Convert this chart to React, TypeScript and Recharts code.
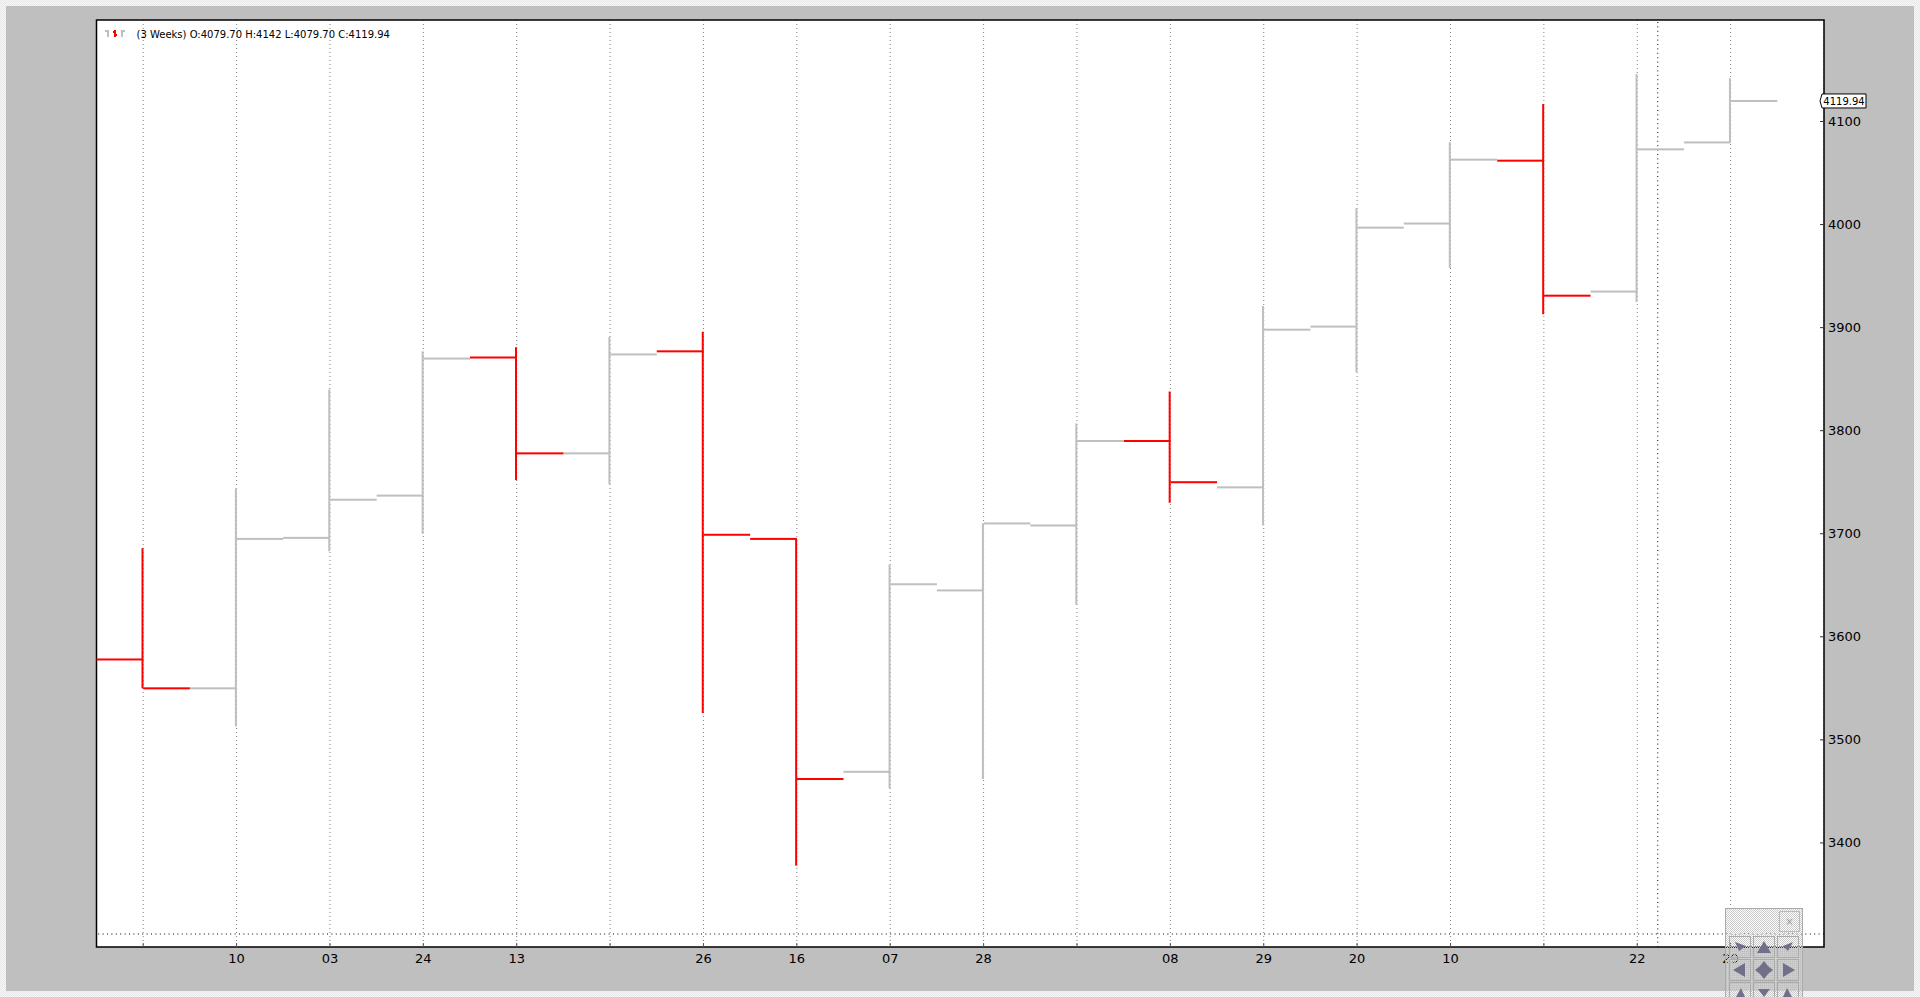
import { Bar, CartesianGrid, ComposedChart, Line, ReferenceArea, ReferenceDot, ReferenceLine, XAxis, YAxis } from 'recharts'

const xLabels = ['', '10', '03', '24', '13', '', '26', '16', '07', '28', '', '08', '29', '20', '10', '', '22', '29']
const opens = [3578, 3550, 3696, 3737, 3871, 3778, 3877, 3695, 3469, 3645, 3708, 3790, 3745, 3901, 4001, 4062, 3935, 4079.7]
const highs = [3686, 3744, 3840, 3877, 3881, 3891, 3896, 3695, 3670, 3710, 3807, 3838, 3921, 4016, 4080, 4117, 4146, 4142]
const lows = [3550, 3513, 3683, 3700, 3752, 3748, 3526, 3378, 3453, 3462, 3631, 3730, 3708, 3857, 3958, 3913, 3925, 4079.7]
const closes = [3550, 3695, 3733, 3870, 3778, 3874, 3699, 3462, 3651, 3710, 3790, 3750, 3898, 3997, 4063, 3931, 4073, 4119.94]
const yTicks = [3400, 3500, 3600, 3700, 3800, 3900, 4000, 4100]
const xTicks = xLabels.map((_, i) => i)

const RED = '#ff0000'
const GRAY = '#bfbfbf'
const TICK_WIDTH = 46.7

const chartData = xLabels.map((label, i) => ({
  i,
  label,
  open: opens[i],
  high: highs[i],
  low: lows[i],
  close: closes[i],
}))

const barColor = (d: { open: number; close: number }) => (d.close < d.open ? RED : GRAY)

// the band offset on a number axis leaves the bar about 1px right of the tick
const RangeShape = (props: any) => {
  const { x, y, width, height, payload } = props
  return <rect x={x - 1} y={y} width={width} height={height} fill={barColor(payload)} />
}

const OpenTick = (props: any) => {
  const { cx, cy, payload } = props
  return <rect key={`o${payload.i}`} x={cx - TICK_WIDTH} y={cy - 1} width={TICK_WIDTH} height={2} fill={barColor(payload)} />
}

const CloseTick = (props: any) => {
  const { cx, cy, payload } = props
  return <rect key={`c${payload.i}`} x={cx} y={cy - 1} width={TICK_WIDTH} height={2} fill={barColor(payload)} />
}

const BottomTick = (props: any) => {
  const { x, y, payload } = props
  return (
    <g>
      <line x1={x} x2={x} y1={y - 12} y2={y - 8} stroke="#555" />
      <text x={x} y={y + 7.5} textAnchor="middle" fontFamily="DejaVu Sans" fontSize={13} fill="#000">
        {xLabels[payload.value]}
      </text>
    </g>
  )
}

const RightTick = (props: any) => {
  const { x, y, payload } = props
  return (
    <g>
      <line x1={x - 12} x2={x - 8} y1={y} y2={y} stroke="#333" />
      <text x={x - 4} y={y + 4.5} fontFamily="DejaVu Sans" fontSize={13} fill="#000">
        {payload.value}
      </text>
    </g>
  )
}

const PriceTag = (props: any) => {
  const { cx, cy } = props
  return (
    <g>
      <path
        d={`M${cx - 4} ${cy} L${cx - 2} ${cy - 7} H${cx + 42} V${cy + 7} H${cx - 2} Z`}
        fill="#fff"
        stroke="#000"
        strokeWidth={1}
      />
      <text x={cx + 20} y={cy + 4} textAnchor="middle" fontFamily="DejaVu Sans" fontSize={10} fill="#000">
        4119.94
      </text>
    </g>
  )
}

const buttonCols = [1729, 1753, 1777]
const buttonRows = [936, 959, 982]
const ARROW = '#70708a'

const arrows = [
  'M1735 942 L1746 946 L1739 951 Z',
  'M1764 941 L1771 953 H1757 Z',
  'M1793 942 L1783 946 L1788 951 Z',
  'M1733 970 L1745 963 V977 Z',
  'M1764 961 L1768 966 L1773 970 L1768 974 L1764 979 L1760 974 L1755 970 L1760 966 Z',
  'M1795 970 L1783 963 V977 Z',
  'M1741 988 L1745 997 H1736 Z',
  'M1758 989 H1770 L1764 997 Z',
  'M1787 988 L1783 997 H1792 Z',
]

const Overlay = () => (
  <svg width={1920} height={997} style={{ position: 'absolute', left: 0, top: 0 }}>
    <defs>
      <pattern id="dither" width={2} height={2} patternUnits="userSpaceOnUse">
        <rect x={0} y={0} width={1} height={1} fill="#c8c8c8" />
        <rect x={1} y={1} width={1} height={1} fill="#c8c8c8" />
        <rect x={1} y={0} width={1} height={1} fill="#ffffff" fillOpacity={0.3} />
      </pattern>
    </defs>
    <g stroke={GRAY} strokeWidth={2} fill="none">
      <path d="M108 30 V37 M105 31 H108" />
      <path d="M122 30 V37 M122 31 H125" />
    </g>
    <path d="M115 30 V37 M113 32 H115 M115 35 H117" stroke={RED} strokeWidth={2} fill="none" />
    <text x={136.5} y={38} fontFamily="DejaVu Sans" fontSize={10} fill="#000">
      (3 Weeks) O:4079.70 H:4142 L:4079.70 C:4119.94
    </text>
    <rect x={1725.5} y={908.5} width={77} height={89} fill="url(#dither)" stroke="#aaa" />
    <rect x={1779.5} y={911.5} width={20} height={20} fill="none" stroke="#bbb" />
    <text x={1789.5} y={925} textAnchor="middle" fontFamily="DejaVu Sans" fontSize={10} fill="#999">
      ×
    </text>
    {buttonRows.map((y) =>
      buttonCols.map((x) => <rect key={`${x}-${y}`} x={x + 0.5} y={y + 0.5} width={21} height={21} fill="none" stroke="#aaa" />),
    )}
    {arrows.map((d) => (
      <path key={d} d={d} fill={ARROW} />
    ))}
  </svg>
)

export default function App() {
  return (
    <div
      style={{
        position: 'absolute',
        left: 0,
        top: 0,
        width: 1920,
        height: 997,
        overflow: 'hidden',
        backgroundImage: 'conic-gradient(#f6f6f6 25%, #e8e8e8 0 50%, #f6f6f6 0 75%, #e8e8e8 0)',
        backgroundSize: '2px 2px',
      }}
    >
      <div style={{ position: 'absolute', left: 6, top: 6, width: 1908, height: 985, background: GRAY }} />
      <div style={{ position: 'absolute', left: 0, top: 0 }}>
        <ComposedChart width={1920} height={997} data={chartData} margin={{ top: 20, right: 0, bottom: 0, left: 96.5 }}>
          <CartesianGrid fill="#fff" horizontal={false} stroke="#808080" strokeDasharray="1 3" />
          <XAxis
            dataKey="i"
            type="number"
            domain={[-0.5, 18]}
            ticks={xTicks}
            interval={0}
            height={50}
            axisLine={false}
            tickLine={false}
            tick={<BottomTick />}
          />
          <YAxis
            orientation="right"
            domain={[3299, 4198.5]}
            ticks={yTicks}
            interval={0}
            width={96}
            axisLine={false}
            tickLine={false}
            tick={<RightTick />}
          />
          <ReferenceLine x={16.22} stroke="#000" strokeDasharray="1 3.4" />
          <ReferenceLine y={3311.6} stroke="#000" strokeDasharray="1 3.4" />
          <Bar dataKey={(d: any) => [d.low, d.high]} barSize={2} shape={<RangeShape />} isAnimationActive={false} />
          <Line dataKey="open" stroke="none" dot={OpenTick} activeDot={false} isAnimationActive={false} />
          <Line dataKey="close" stroke="none" dot={CloseTick} activeDot={false} isAnimationActive={false} />
          <ReferenceArea x1={-0.5} x2={18} y1={3299} y2={4198.5} fill="none" stroke="#000" strokeWidth={1.5} />
          <ReferenceDot x={18} y={4119.94} r={1} ifOverflow="visible" shape={<PriceTag />} />
        </ComposedChart>
      </div>
      <Overlay />
    </div>
  )
}
